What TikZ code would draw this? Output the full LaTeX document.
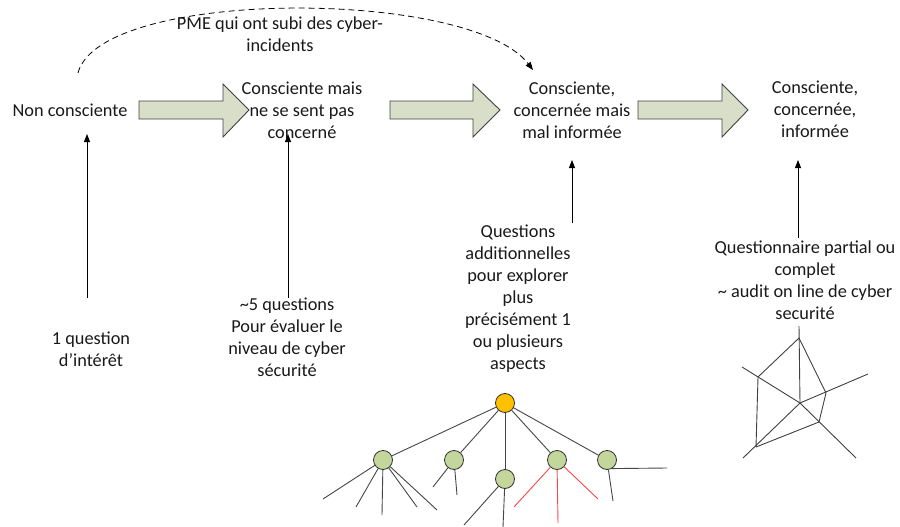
\documentclass[tikz,border=0pt]{standalone}
\usepackage{fontspec}
\setmainfont{Carlito}
\usetikzlibrary{arrows.meta}
\definecolor{blockfill}{RGB}{216,222,199}
\definecolor{blockline}{RGB}{64,64,64}
\definecolor{textgray}{RGB}{25,25,25}
\definecolor{leafgreen}{RGB}{195,214,155}
\definecolor{rootorange}{RGB}{255,192,0}
\definecolor{edgegray}{RGB}{70,70,70}
\definecolor{leafred}{RGB}{250,70,70}
\tikzset{
  lbl/.style={align=center, text=textgray, inner sep=0pt,
    font=\fontsize{18.3}{22}\selectfont},
  blockarrow/.style={draw=blockline, fill=blockfill, line width=0.9pt, line join=miter},
  uparrow/.style={draw=black, line width=0.9pt, -{Triangle[length=8pt,width=6pt]}},
  dasharrow/.style={draw=black, line width=0.8pt, dash pattern=on 6pt off 4pt,
    -{Triangle[length=8pt,width=6pt]}},
  treenode/.style={circle, draw=black!80, line width=0.8pt, minimum size=19pt, inner sep=0pt},
  rootnode/.style={treenode, fill=rootorange},
  childnode/.style={treenode, fill=leafgreen},
  treeedge/.style={draw=edgegray, line width=0.9pt},
  rededge/.style={draw=leafred, line width=0.9pt},
  radar/.style={draw=black!75, line width=0.9pt, line join=round}
}
\begin{document}
\begin{tikzpicture}[x=1pt, y=-1pt]
\useasboundingbox (0,0) rectangle (900,527);

% block arrows between the stages
\draw[blockarrow] (139,101) -- (223,101) -- (223,84) -- (249,110) -- (223,137) -- (223,119) -- (139,119) -- cycle;
\draw[blockarrow] (390,101) -- (473,101) -- (473,84) -- (500,110) -- (473,137) -- (473,119) -- (390,119) -- cycle;
\draw[blockarrow] (638,101) -- (722,101) -- (722,84) -- (748,110) -- (722,137) -- (722,119) -- (638,119) -- cycle;

% stages
\node[lbl] (nc) at (70,110) {Non consciente};
\node[lbl] (c1) at (302,110) {Consciente mais\\ne se sent pas\\concerné};
\node[lbl] (c2) at (572,110) {Consciente,\\concernée mais\\mal informée};
\node[lbl] (c3) at (815,109) {Consciente,\\concernée,\\informée};

% shortcut for companies that already had incidents
\node[lbl] (pme) at (280,34) {PME qui ont subi des cyber-\\incidents};
\coordinate (dstart) at (78,73);
\coordinate (dend) at (533,70);
\draw[dasharrow] (dstart) .. controls (100,-12) and (470,-12) .. (dend);

% tools used at each stage
\node[lbl] (q1) at (91,349) {1 question\\d’intérêt};
\node[lbl] (q2) at (287,337) {\textasciitilde5 questions\\Pour évaluer le\\niveau de cyber\\sécurité};
\node[lbl] (q3) at (518,299) {Questions\\additionnelles\\pour explorer\\plus\\précisément 1\\ou plusieurs\\aspects};
\node[lbl] (q4) at (805,280) {Questionnaire partial ou\\complet\\\textasciitilde{} audit on line de cyber\\securité};

\coordinate (a1s) at (87,298);  \coordinate (a1e) at (87,134);
\coordinate (a2s) at (288,298); \coordinate (a2e) at (288,134);
\coordinate (a3s) at (572,223); \coordinate (a3e) at (572,160);
\coordinate (a4s) at (798,238); \coordinate (a4e) at (798,160);
\draw[uparrow] (a1s) -- (a1e);
\draw[uparrow] (a2s) -- (a2e);
\draw[uparrow] (a3s) -- (a3e);
\draw[uparrow] (a4s) -- (a4e);

% question tree
\node[rootnode] (r) at (505,403) {};
\node[childnode] (ta) at (383,460) {};
\node[childnode] (tb) at (454,460) {};
\node[childnode] (tc) at (505,479) {};
\node[childnode] (td) at (557,460) {};
\node[childnode] (te) at (607,460) {};
\foreach \c in {ta,tb,tc,td,te} \draw[treeedge] (r) -- (\c);
\foreach \p in {(323,499),(356,507),(382,515),(417,507),(437,510)} \draw[treeedge] (ta) -- \p;
\foreach \p in {(433,487),(457,495)} \draw[treeedge] (tb) -- \p;
\foreach \p in {(464,525),(503,527)} \draw[treeedge] (tc) -- \p;
\foreach \p in {(514,507),(558,523),(598,499)} \draw[rededge] (td) -- \p;
\draw[treeedge] (te.-60) -- (667,468);
\draw[treeedge] (te) -- (613,501);

% radar chart
\coordinate (rc) at (800,403);
\foreach \p in {(799,326),(742,367),(868,374),(856,458),(743,458)} \draw[radar] (rc) -- \p;
\draw[radar] (799,338) -- (826,393) -- (819,422) -- (756,447) -- (758,377) -- cycle;
\end{tikzpicture}
\end{document}
